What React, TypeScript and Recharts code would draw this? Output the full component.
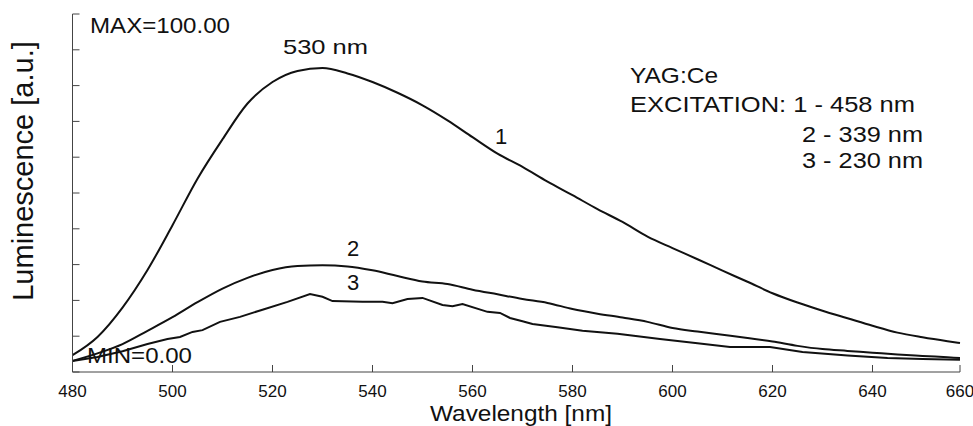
import { Line, LineChart, XAxis, YAxis } from 'recharts';

// wavelength grid (nm) shared by curves 1 and 2
const WAVELENGTH = [
  480, 485, 490, 495, 500, 505, 510, 515, 520, 525, 530, 535, 540, 545, 550, 555, 560, 565, 570,
  575, 580, 585, 590, 595, 600, 605, 610, 615, 620, 625, 630, 635, 640, 645, 650, 655, 657.5,
];

// 1 - excitation 458 nm
const CURVE_1 = [
  4.7, 9.8, 18, 28.5, 41, 54, 65, 75, 81, 84.1, 84.9, 83.4, 81, 78, 74.5, 70.3, 65.6, 61, 57.3,
  53.2, 49.4, 45.5, 41.9, 37.8, 34.6, 31.5, 28.3, 25.2, 22, 19.4, 17.1, 15, 12.9, 11, 9.7, 8.6, 8.1,
];

// 2 - excitation 339 nm
const CURVE_2 = [
  3.1, 5.2, 7.8, 11.5, 15.3, 19.5, 23.3, 26.3, 28.5, 29.6, 29.8, 29.5, 28.4, 26.8, 25.3, 24.6, 23,
  21.7, 20.4, 19.3, 17.6, 16.3, 15.2, 14, 12.3, 11.3, 10.4, 9.5, 8.5, 7.3, 6.4, 5.9, 5.4, 4.9, 4.5,
  4.1, 3.9,
];

// 3 - excitation 230 nm (noisier, own grid)
const WAVELENGTH_3 = [
  480, 485, 490, 495, 499, 501.5, 504, 506, 509.5, 513.5, 518, 523, 527.5, 530, 532, 538, 542, 544,
  547, 550, 554, 556, 558, 563, 565.5, 567.5, 570, 572, 577, 582, 589, 597.5, 605, 611.5, 619.5, 626,
  635, 643, 650, 657.5,
];
const CURVE_3 = [
  3.1, 4.2, 5.8, 7.8, 9.2, 9.8, 11.2, 11.7, 14, 15.4, 17.4, 19.6, 21.8, 21, 19.8, 19.6, 19.6, 19.2,
  20.4, 20.7, 18.7, 18.4, 19, 16.8, 16.5, 15.1, 14.2, 13.4, 12.5, 11.5, 10.7, 9.2, 8, 7, 7, 5.6, 4.6,
  3.9, 3.6, 3.4,
];

const X_TICKS = [480, 500, 520, 540, 560, 580, 600, 620, 640, 657.5];
const Y_TICKS = [0, 10, 20, 30, 40, 50, 60, 70, 80, 90, 100];

const toPoints = (xs: number[], ys: number[]) => xs.map((x, i) => ({ x, y: ys[i] }));

const data1 = toPoints(WAVELENGTH, CURVE_1);
const data2 = toPoints(WAVELENGTH, CURVE_2);
const data3 = toPoints(WAVELENGTH_3, CURVE_3);

const INK = '#111';
const AXIS = '#444';
const FONT = '"Liberation Sans", Arial, sans-serif';

export default function App() {
  return (
    <div style={{ position: 'absolute', left: 0, top: 0, fontFamily: FONT }}>
      <LineChart width={973} height={426} margin={{ top: 14, right: 13, bottom: 0, left: 0 }}>
        <XAxis
          type="number"
          dataKey="x"
          domain={[480, 657.5]}
          ticks={X_TICKS}
          tickFormatter={(v) => String(Math.round(v / 20) * 20)}
          height={54}
          stroke={AXIS}
          tickSize={-7}
          tickMargin={20}
          tick={{ fontSize: 17, fill: INK }}
        />
        <YAxis
          type="number"
          domain={[0, 100]}
          ticks={Y_TICKS}
          width={72.5}
          stroke={AXIS}
          tickSize={-7}
          tickFormatter={() => ''}
        />
        <Line data={data1} dataKey="y" type="monotone" stroke={INK} strokeWidth={2} dot={false} isAnimationActive={false} />
        <Line data={data2} dataKey="y" type="monotone" stroke={INK} strokeWidth={2} dot={false} isAnimationActive={false} />
        <Line data={data3} dataKey="y" type="linear" stroke={INK} strokeWidth={2} dot={false} isAnimationActive={false} />

        <text x={521} y={421} textAnchor="middle" fontSize={22} fill={INK} textLength={182} lengthAdjust="spacingAndGlyphs">
          Wavelength [nm]
        </text>
        <text x={33} y={171} transform="rotate(-90 33 171)" textAnchor="middle" fontSize={29} fill={INK}>
          Luminescence [a.u.]
        </text>
        <text x={90} y={33} fontSize={22} fill={INK} textLength={140} lengthAdjust="spacingAndGlyphs">MAX=100.00</text>
        <text x={87} y={363} fontSize={22} fill={INK} textLength={105} lengthAdjust="spacingAndGlyphs">MIN=0.00</text>
        <text x={283} y={54} fontSize={21} fill={INK} textLength={85} lengthAdjust="spacingAndGlyphs">530 nm</text>
        <text x={495} y={144} fontSize={22} fill={INK}>1</text>
        <text x={347} y={256} fontSize={22} fill={INK}>2</text>
        <text x={347} y={290} fontSize={22} fill={INK}>3</text>
        <text x={630} y={83} fontSize={22} fill={INK} textLength={88} lengthAdjust="spacingAndGlyphs">YAG:Ce</text>
        <text x={630} y={112} fontSize={22} fill={INK} textLength={285} lengthAdjust="spacingAndGlyphs">EXCITATION: 1 - 458 nm</text>
        <text x={802} y={142} fontSize={22} fill={INK} textLength={121} lengthAdjust="spacingAndGlyphs">2 - 339 nm</text>
        <text x={802} y={168} fontSize={22} fill={INK} textLength={121} lengthAdjust="spacingAndGlyphs">3 - 230 nm</text>
      </LineChart>
    </div>
  );
}
